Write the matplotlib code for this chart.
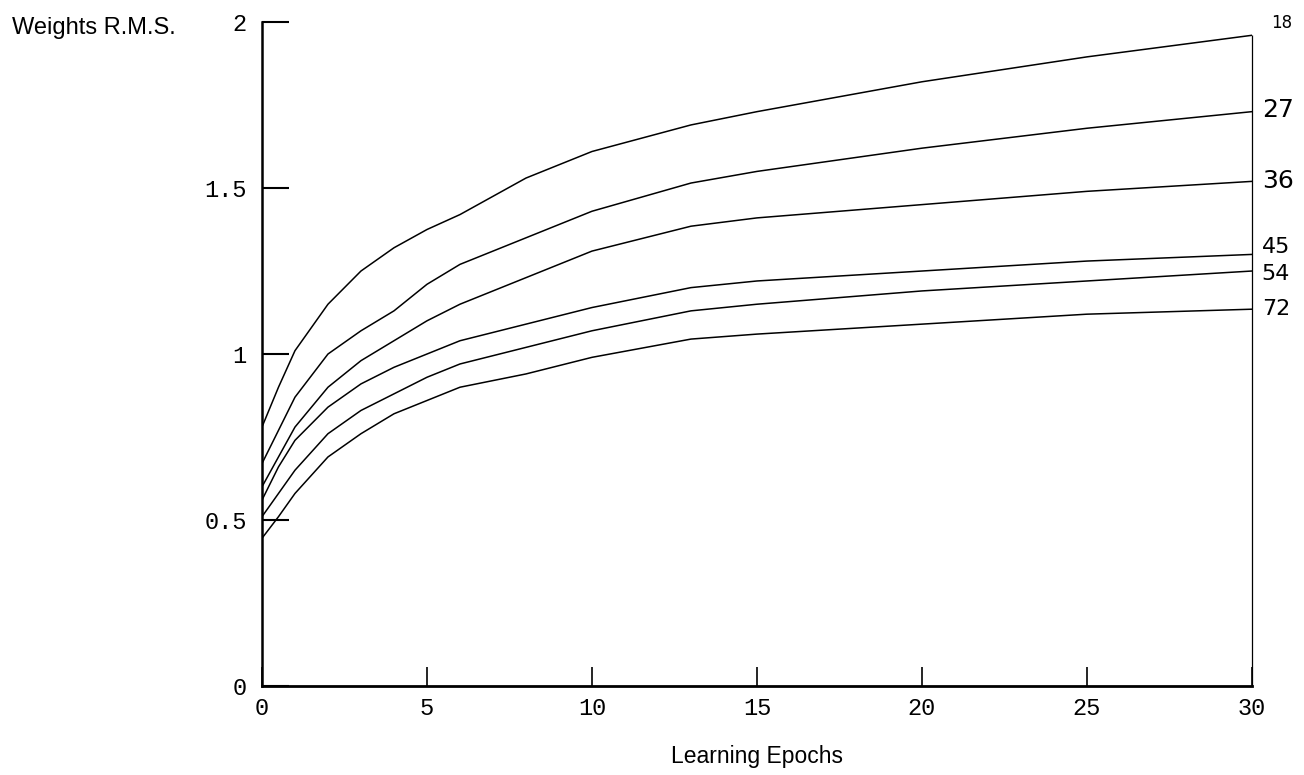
import numpy as np
import matplotlib.pyplot as plt

epochs = [0, 0.5, 1, 2, 3, 4, 5, 6, 8, 10, 13, 15, 20, 25, 30]

# weights r.m.s. for each network size
rms_18 = [0.78, 0.90, 1.01, 1.15, 1.25, 1.32, 1.375, 1.42, 1.53, 1.61, 1.69, 1.73, 1.82, 1.895, 1.96]
rms_27 = [0.67, 0.77, 0.87, 1.00, 1.07, 1.13, 1.21, 1.27, 1.35, 1.43, 1.515, 1.55, 1.62, 1.68, 1.73]
rms_36 = [0.60, 0.69, 0.78, 0.90, 0.98, 1.04, 1.10, 1.15, 1.23, 1.31, 1.385, 1.41, 1.45, 1.49, 1.52]
rms_45 = [0.56, 0.66, 0.74, 0.84, 0.91, 0.96, 1.00, 1.04, 1.09, 1.14, 1.20, 1.22, 1.25, 1.28, 1.30]
rms_54 = [0.51, 0.58, 0.65, 0.76, 0.83, 0.88, 0.93, 0.97, 1.02, 1.07, 1.13, 1.15, 1.19, 1.22, 1.25]
rms_72 = [0.445, 0.51, 0.58, 0.69, 0.76, 0.82, 0.86, 0.90, 0.94, 0.99, 1.045, 1.06, 1.09, 1.12, 1.135]

curve_names = ['18', '27', '36', '45', '54', '72']
curves = [rms_18, rms_27, rms_36, rms_45, rms_54, rms_72]

x_ticks = [0, 5, 10, 15, 20, 25, 30]
y_ticks = [0, 0.5, 1, 1.5, 2]

fig = plt.figure(figsize=(13.04, 7.75), dpi=100)
ax = fig.add_axes([0.2009, 0.1148, 0.7592, 0.8568])

for name, vals in zip(curve_names, curves):
    ax.plot(epochs, vals, color='black', linewidth=1.1, solid_joinstyle='round')

# thin closing line on the right at the last epoch
ax.vlines(epochs[-1], 0, max(c[-1] for c in curves), color='black',
          linewidth=0.9, clip_on=False)

# curve labels at the right end (offsets in points)
label_dx = [14, 7, 7, 7, 7, 7]
label_dy = [9, 1, 0, 5, -2, 0]
label_fs = [12, 18, 18, 16, 16, 16]
for name, vals, dx, dy, fs in zip(curve_names, curves, label_dx, label_dy, label_fs):
    ax.annotate(name, xy=(epochs[-1], vals[-1]), xytext=(dx, dy),
                textcoords='offset points', ha='left', va='center',
                fontsize=fs, family='DejaVu Sans',
                color='black', annotation_clip=False)

ax.set_xlim(0, 30)
ax.set_ylim(0, 2)

for s in ['top', 'right']:
    ax.spines[s].set_visible(False)
ax.spines['left'].set_linewidth(1.8)
ax.spines['bottom'].set_linewidth(2.0)

ax.set_xticks(x_ticks)
ax.set_xticklabels([str(t) for t in x_ticks])
ax.set_yticks(y_ticks)
ax.set_yticklabels(['0', '0.5', '1', '1.5', '2'])

ax.tick_params(axis='x', direction='in', length=13.5, width=1.2, pad=8)
ax.tick_params(axis='y', direction='in', length=19.5, width=1.5, pad=11)
for lab in ax.get_xticklabels() + ax.get_yticklabels():
    lab.set_family('Liberation Mono')
    lab.set_fontsize(17)

ax.set_xlabel('Learning Epochs', fontsize=16.5, family='Liberation Sans', labelpad=18)
fig.text(12 / 1304, 1 - 28 / 775, 'Weights R.M.S.', fontsize=17,
         family='Liberation Sans', ha='left', va='center')

plt.savefig('out.png', dpi=100)
